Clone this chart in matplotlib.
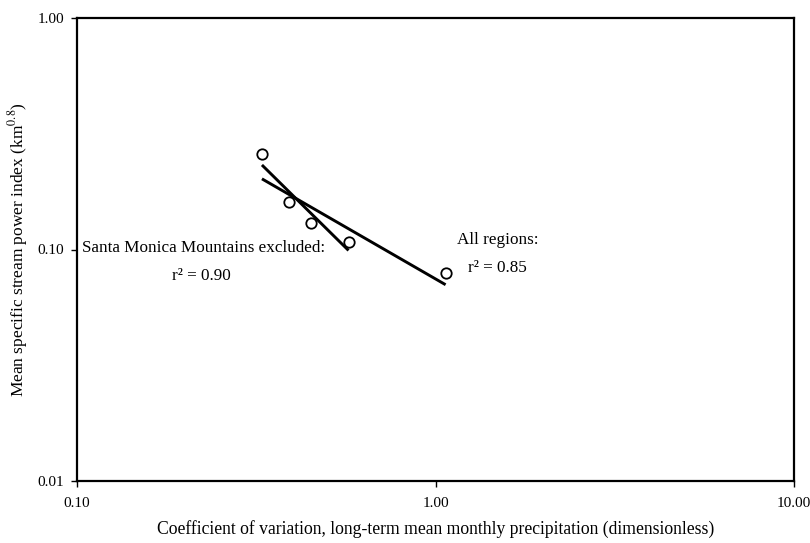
import numpy as np
import matplotlib
matplotlib.use("Agg")
import matplotlib.pyplot as plt
from matplotlib.ticker import FixedLocator, FixedFormatter, NullLocator

# Data
cv_precip = [0.328, 0.391, 0.450, 0.572, 1.067]       # x (dimensionless)
stream_power = [0.259, 0.160, 0.130, 0.108, 0.079]   # y (km^0.8)
excluded_count = 4   # first four points = Santa Monica Mountains excluded

x_ticks = [0.1, 1.0, 10.0]
x_tick_labels = ["0.10", "1.00", "10.00"]
y_ticks = [0.01, 0.1, 1.0]
y_tick_labels = ["0.01", "0.10", "1.00"]

plt.rcParams['font.family'] = ['Liberation Serif', 'DejaVu Serif']
plt.rcParams['mathtext.fontset'] = 'stix'

fig = plt.figure(figsize=(8.1, 5.43), dpi=100)
ax = fig.add_axes([77/810, 1 - 481/543, (794 - 77)/810, (481 - 18)/543])

x = np.array(cv_precip)
y = np.array(stream_power)

def power_fit(xs, ys):
    lx, ly = np.log10(xs), np.log10(ys)
    b, a = np.polyfit(lx, ly, 1)
    xx = np.array([xs.min(), xs.max()])
    return xx, 10 ** (a + b * np.log10(xx))

xa, ya = power_fit(x, y)
xe, ye = power_fit(x[:excluded_count], y[:excluded_count])

ax.plot(xa, ya, color='black', lw=2.1, solid_capstyle='butt')
ax.plot(xe, ye, color='black', lw=2.1, solid_capstyle='butt')
ax.plot(x, y, linestyle='none', marker='o', ms=7.5, mfc='white', mec='black', mew=1.3, zorder=3)

ax.set_xscale('log')
ax.set_yscale('log')
ax.set_xlim(0.1, 10)
ax.set_ylim(0.01, 1)

ax.xaxis.set_major_locator(FixedLocator(x_ticks))
ax.xaxis.set_major_formatter(FixedFormatter(x_tick_labels))
ax.xaxis.set_minor_locator(NullLocator())
ax.yaxis.set_major_locator(FixedLocator(y_ticks))
ax.yaxis.set_major_formatter(FixedFormatter(y_tick_labels))
ax.yaxis.set_minor_locator(NullLocator())

ax.tick_params(axis='both', direction='out', length=4, width=1, labelsize=11, colors='black')
ax.tick_params(axis='x', pad=7.5)
ax.tick_params(axis='y', pad=5)

for s in ax.spines.values():
    s.set_linewidth(1.6)
    s.set_color('black')

ax.set_xlabel("Coefficient of variation, long-term mean monthly precipitation (dimensionless)",
              fontsize=12.7, labelpad=7)
ax.set_ylabel(r"Mean specific stream power index (km$^{0.8}$)", fontsize=12.5, labelpad=6)

ax.text(0.1031, 0.1018, "Santa Monica Mountains excluded:", fontsize=12.3, va='center', ha='left')
ax.text(0.2228, 0.0770, "r² = 0.90", fontsize=12.3, va='center', ha='center')
ax.text(1.489, 0.110, "All regions:", fontsize=12.3, va='center', ha='center')
ax.text(1.489, 0.0834, "r² = 0.85", fontsize=12.3, va='center', ha='center')

fig.savefig("out.png", dpi=100)
